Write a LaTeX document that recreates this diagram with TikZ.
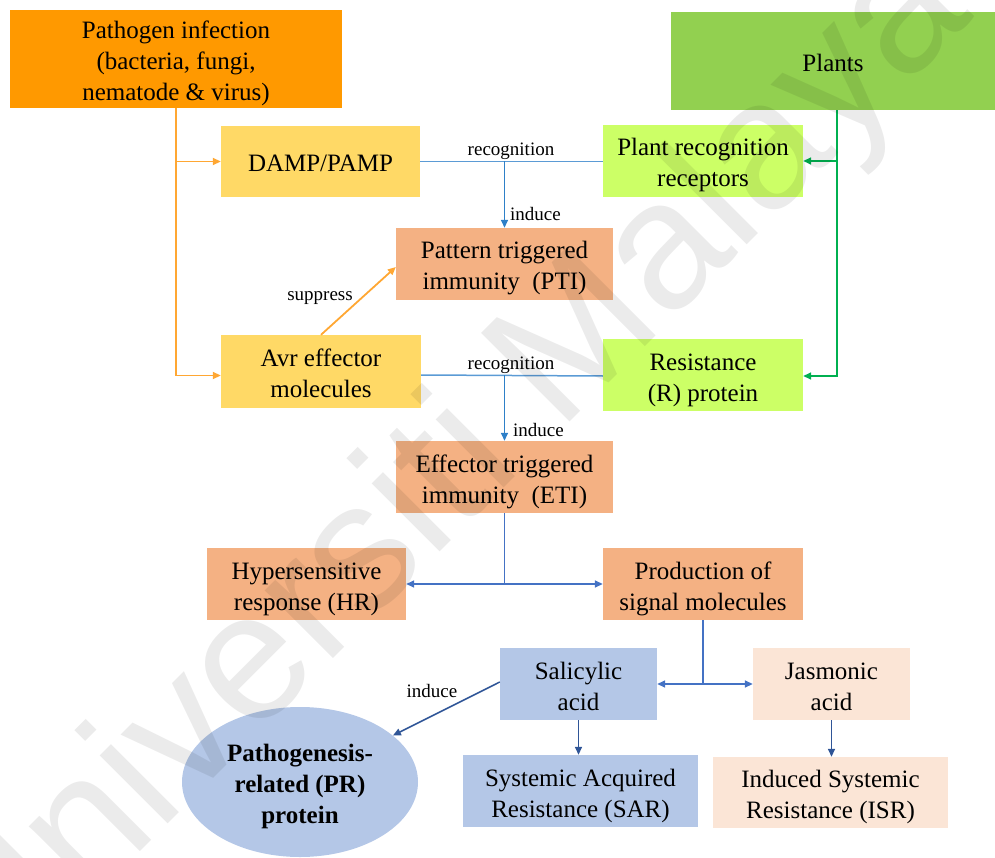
\documentclass[tikz,border=0pt]{standalone}
\usepackage{fontspec}
\setmainfont{Liberation Serif}
\newfontfamily\wmfont{Liberation Sans}
\usetikzlibrary{arrows.meta,shapes.geometric}
\newcommand{\tsup}{\rule{0pt}{27pt}}
\newcommand{\tsdn}{\rule[-6pt]{0pt}{6pt}}
\definecolor{cPath}{HTML}{FF9900}
\definecolor{cPlant}{HTML}{92D050}
\definecolor{cYel}{HTML}{FFD966}
\definecolor{cLime}{HTML}{CCFF66}
\definecolor{cSal}{HTML}{F4B183}
\definecolor{cBlue}{HTML}{B4C7E7}
\definecolor{cPeach}{HTML}{FBE5D6}
\definecolor{lOr}{HTML}{FFA733}
\definecolor{lGr}{HTML}{00B050}
\definecolor{lRec}{HTML}{5B9BD5}
\definecolor{lInd}{HTML}{2E80C8}
\definecolor{lMid}{HTML}{4472C4}
\definecolor{lDark}{HTML}{2F5597}
\begin{document}
\begin{tikzpicture}[x=1pt,y=-1pt,
  box/.style={rectangle, inner sep=0pt, align=center, font=\fontsize{25}{31}\selectfont, text=black},
  lbl/.style={inner sep=0pt, font=\fontsize{19}{22}\selectfont, text=black},
  tip/.style={-{Triangle[length=8pt,width=7pt]}},
  oline/.style={draw=lOr, line width=1.8pt},
  gline/.style={draw=lGr, line width=1.6pt},
  rline/.style={draw=lRec, line width=1.5pt},
  iline/.style={draw=lInd, line width=1.5pt},
  mline/.style={draw=lMid, line width=1.5pt},
  dline/.style={draw=lDark, line width=1.5pt}]
\useasboundingbox (0,0) rectangle (995,858);

% boxes
\node[box, fill=cPath, minimum width=332pt, minimum height=98pt] (path) at (176,59) {\tsup Pathogen infection\\(bacteria, fungi,\\nematode \& virus)\tsdn};
\node[box, fill=cPlant, minimum width=324pt, minimum height=98pt] (plants) at (833,61) {\tsup Plants\tsdn};
\node[box, fill=cYel, minimum width=199pt, minimum height=71pt] (damp) at (320.5,161.5) {\tsup DAMP/PAMP\tsdn};
\node[box, fill=cLime, minimum width=200pt, minimum height=72pt] (prr) at (703,161) {\tsup Plant recognition\\receptors\tsdn};
\node[box, fill=cSal, minimum width=217pt, minimum height=72pt] (pti) at (504.5,264) {\tsup Pattern triggered\\immunity~ (PTI)\tsdn};
\node[box, fill=cYel, minimum width=200pt, minimum height=73pt] (avr) at (321,371.5) {\tsup Avr effector\\molecules\tsdn};
\node[box, fill=cLime, minimum width=200pt, minimum height=72pt] (rprot) at (703,375) {\tsup Resistance\\(R) protein\tsdn};
\node[box, fill=cSal, minimum width=217pt, minimum height=72pt] (eti) at (504.5,477) {\tsup Effector triggered\\immunity~ (ETI)\tsdn};
\node[box, fill=cSal, minimum width=199pt, minimum height=72pt] (hr) at (306.5,584) {\tsup Hypersensitive\\response (HR)\tsdn};
\node[box, fill=cSal, minimum width=200pt, minimum height=72pt] (prod) at (703,584) {\tsup Production of\\signal molecules\tsdn};
\node[box, fill=cBlue, minimum width=157pt, minimum height=72pt] (sal) at (578.5,684) {\tsup Salicylic\\acid\tsdn};
\node[box, fill=cPeach, minimum width=157pt, minimum height=72pt] (jas) at (831.5,684) {\tsup Jasmonic\\acid\tsdn};
\node[box, fill=cBlue, minimum width=235pt, minimum height=72pt] (sar) at (580.5,791) {\tsup Systemic Acquired\\Resistance (SAR)\tsdn};
\node[box, fill=cPeach, minimum width=235pt, minimum height=71pt] (isr) at (830.5,792.5) {\tsup Induced Systemic\\Resistance (ISR)\tsdn};
\node[ellipse, fill=cBlue, inner sep=0pt, minimum width=236pt, minimum height=150pt, align=center, font=\fontsize{25}{31}\selectfont\bfseries] (pr) at (300,782) {\tsup Pathogenesis-\\related (PR)\\protein\tsdn};

% orange connectors
\draw[oline, tip] (path.south) |- (damp.west);
\draw[oline, tip] (path.south) |- ([yshift=-4pt]avr.west);
\draw[oline, tip] (avr.north) -- ([yshift=-3pt]pti.west);
\node[lbl] (sup) at (320,298) {suppress};

% green connectors
\draw[gline, tip] ([xshift=4pt]plants.south) |- (prr.east);
\draw[gline, tip] ([xshift=4pt]plants.south) |- ([yshift=-1pt]rprot.east);

% recognition / induce (PTI)
\draw[rline] (damp.east) -- (prr.west |- damp.east);
\draw[iline, tip] (pti.north |- damp.east) -- (pti.north);
\node[lbl] (rec1) at (511,151) {recognition};
\node[lbl, anchor=west] (ind1) at (510,214) {induce};

% recognition / induce (ETI)
\draw[rline] (avr.east |- rprot.west) -- ([yshift=-1pt]rprot.west);
\draw[iline, tip] (eti.north |- rprot.west) -- (eti.north);
\node[lbl] (rec2) at (511,365) {recognition};
\node[lbl, anchor=west] (ind2) at (513,430) {induce};

% ETI split
\draw[mline, tip] (eti.south) |- (hr.east);
\draw[mline, tip] (eti.south) |- (prod.west);

% production split
\draw[mline, tip] (prod.south) |- (sal.east);
\draw[mline, tip] (prod.south) |- (jas.west);

% SA, JA downstream
\draw[dline, tip] (sal.south) -- (sal.south |- sar.north);
\draw[dline, tip] (jas.south) -- (jas.south |- isr.north);
\draw[dline, tip] ([yshift=2pt]sal.west) -- (pr);
\node[lbl] (ind3) at (432,691) {induce};

% watermark
\node[rotate=45, anchor=base west, inner sep=0pt, font=\wmfont\fontsize{182}{182}\selectfont, text=black, text opacity=0.08] (wm) at (-5,997) {Universiti Malaya};
\end{tikzpicture}
\end{document}
